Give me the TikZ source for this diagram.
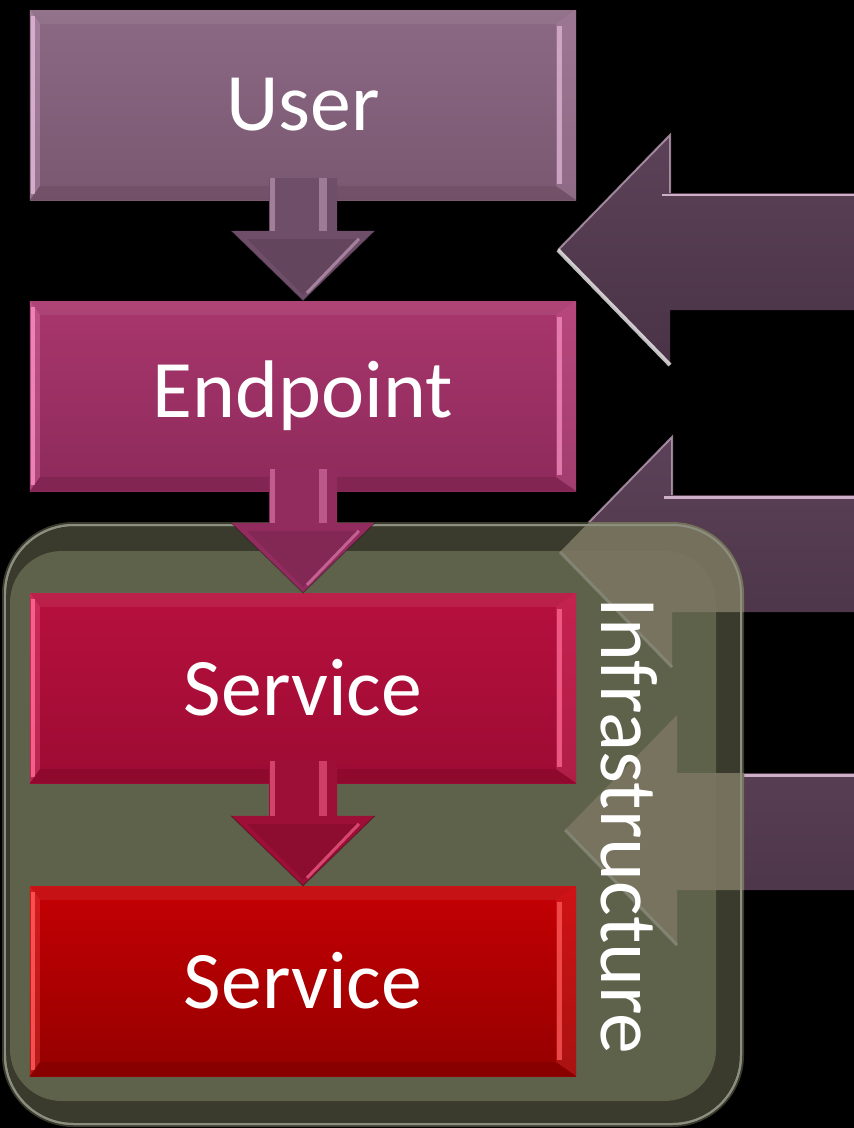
\documentclass[tikz,border=0pt]{standalone}
\usepackage{fontspec}
\newfontfamily\labelfont{Carlito}
\usetikzlibrary{calc}

\definecolor{sidepurple}{RGB}{83,58,79}
\definecolor{sidepurpletop}{RGB}{92,66,88}
\definecolor{sidepurplelow}{RGB}{74,51,70}
\definecolor{sidehi}{RGB}{205,176,200}
\definecolor{infrarim}{RGB}{58,59,44}
\definecolor{infrafill}{RGB}{95,98,74}
\definecolor{infraedge}{RGB}{140,142,128}
\definecolor{infratint}{RGB}{122,117,96}

\definecolor{usertop}{RGB}{139,104,132}
\definecolor{userlow}{RGB}{123,88,113}
\definecolor{userhi}{RGB}{224,182,215}
\definecolor{userdk}{RGB}{100,70,92}
\definecolor{endtop}{RGB}{168,54,108}
\definecolor{endlow}{RGB}{142,42,91}
\definecolor{endhi}{RGB}{246,140,192}
\definecolor{enddk}{RGB}{112,30,70}
\definecolor{svatop}{RGB}{183,16,62}
\definecolor{svalow}{RGB}{156,11,51}
\definecolor{svahi}{RGB}{255,106,150}
\definecolor{svadk}{RGB}{122,6,38}
\definecolor{svbtop}{RGB}{196,0,4}
\definecolor{svblow}{RGB}{149,0,0}
\definecolor{svbhi}{RGB}{255,90,90}
\definecolor{svbdk}{RGB}{115,0,0}

\definecolor{arrA}{RGB}{111,78,105}
\definecolor{arrAhi}{RGB}{204,166,196}
\definecolor{arrB}{RGB}{146,44,94}
\definecolor{arrBhi}{RGB}{232,132,183}
\definecolor{arrC}{RGB}{158,15,55}
\definecolor{arrChi}{RGB}{255,110,150}

\tikzset{
  stepbox/.style 2 args={rectangle, minimum width=546bp, minimum height=190bp,
    inner sep=0pt, top color=#1, bottom color=#2, text=white,
    font=\labelfont\fontsize{82}{90}\selectfont},
  infralabel/.style={text=white, inner sep=0pt,
    font=\labelfont\fontsize{82}{90}\selectfont},
  sidearrow/.style={top color=sidepurpletop, bottom color=sidepurplelow},
}

% bevelled frame of a step box: node, highlight colour, bottom colour
\newcommand\boxbevel[3]{%
  \fill[#2, opacity=0.3] (#1.north west) -- (#1.south west)
     -- ($(#1.south west)+(10bp,14bp)$) -- ($(#1.north west)+(10bp,-14bp)$) -- cycle;
  \draw[#2, line width=4bp, opacity=0.85] ($(#1.north west)+(3bp,-6bp)$) -- ($(#1.south west)+(3bp,6bp)$);
  \fill[#2, opacity=0.2] (#1.north east) -- (#1.south east)
     -- ($(#1.south east)+(-20bp,14bp)$) -- ($(#1.north east)+(-20bp,-14bp)$) -- cycle;
  \draw[#2, line width=5bp, opacity=0.75] ($(#1.north east)+(-17bp,-16bp)$) -- ($(#1.south east)+(-17bp,16bp)$);
  \fill[white, opacity=0.07] (#1.north west) -- (#1.north east)
     -- ($(#1.north east)+(-20bp,-14bp)$) -- ($(#1.north west)+(10bp,-14bp)$) -- cycle;
  \fill[#3, opacity=0.4] (#1.south west) -- (#1.south east)
     -- ($(#1.south east)+(-20bp,14bp)$) -- ($(#1.south west)+(10bp,14bp)$) -- cycle;
}

% block arrow from one step box down to the next: from, to, colour, highlight
\newcommand\flowarrow[4]{%
  \fill[#3] ($(#1.south)+(-34bp,22bp)$) -- ($(#1.south)+(34bp,22bp)$)
     -- ($(#2.north)+(34bp,70bp)$) -- ($(#2.north)+(72bp,70bp)$) -- (#2.north)
     -- ($(#2.north)+(-72bp,70bp)$) -- ($(#2.north)+(-34bp,70bp)$) -- cycle;
  \fill[#4, opacity=0.55] ($(#1.south)+(-33bp,22bp)$) rectangle ($(#2.north)+(-28bp,70bp)$);
  \fill[#4, opacity=0.5] ($(#1.south)+(16bp,22bp)$) rectangle ($(#2.north)+(24bp,70bp)$);
  \fill[black, opacity=0.1] ($(#2.north)+(-56bp,62bp)$) -- ($(#2.north)+(56bp,62bp)$)
     -- ($(#2.north)+(0bp,6bp)$) -- cycle;
  \draw[#4, line width=3bp, opacity=0.6] ($(#2.north)+(56bp,62bp)$) -- ($(#2.north)+(4bp,8bp)$);
  \draw[black, line width=1bp, opacity=0.3] ($(#2.north)+(-72bp,70bp)$) -- (#2.north) -- ($(#2.north)+(72bp,70bp)$);
}

\begin{document}
\begin{tikzpicture}[x=1bp,y=-1bp]
\fill[black] (0,0) rectangle (854,1128);
\useasboundingbox (0,0) rectangle (854,1128);

% arrows entering from the right edge
\foreach \ty/\bx [count=\i] in {250/670, 552/672, 830/677} {
  \coordinate (in\i) at (558+\bx-670,\ty);
  \fill[sidearrow] (in\i) -- (\bx,\ty-115) -- (\bx,\ty-57) -- (860,\ty-57)
     -- (860,\ty+60) -- (\bx,\ty+60) -- (\bx,\ty+115) -- cycle;
  \draw[sidehi, line width=3] (\bx-8,\ty-55) -- (860,\ty-55);
  \draw[sidehi, line width=2, opacity=0.7] (in\i) -- (\bx,\ty-115) -- (\bx,\ty-57);
  \draw[white, line width=4, opacity=0.75] (in\i) -- (\bx,\ty+115);
}

% infrastructure frame
\fill[infrarim, rounded corners=72] (2,522) rectangle (744,1127);
\fill[infrafill, rounded corners=52] (10,551) rectangle (716,1101);
\draw[infraedge, line width=2, rounded corners=69] (5,525) rectangle (741,1124);
\begin{scope}
  \clip[rounded corners=72] (2,522) rectangle (744,1127);
  \foreach \ty/\bx in {552/672, 830/677} {
    \fill[infratint, opacity=0.92] (558+\bx-670,\ty) -- (\bx,\ty-115) -- (\bx,\ty-57) -- (860,\ty-57)
       -- (860,\ty+60) -- (\bx,\ty+60) -- (\bx,\ty+115) -- cycle;
    \draw[infraedge, line width=3, opacity=0.7] (558+\bx-670,\ty) -- (\bx,\ty+115);
  }
  \draw[infraedge, line width=2, rounded corners=69] (5,525) rectangle (741,1124);
\end{scope}

% step boxes
\node[stepbox={usertop}{userlow}] (user) at (303,105) {User};
\node[stepbox={endtop}{endlow}] (endpoint) at (303,396) {Endpoint};
\node[stepbox={svatop}{svalow}] (service1) at (303,688) {Service};
\node[stepbox={svbtop}{svblow}] (service2) at (303,981) {Service};
\boxbevel{user}{userhi}{userdk}
\boxbevel{endpoint}{endhi}{enddk}
\boxbevel{service1}{svahi}{svadk}
\boxbevel{service2}{svbhi}{svbdk}

\flowarrow{user}{endpoint}{arrA}{arrAhi}
\flowarrow{endpoint}{service1}{arrB}{arrBhi}
\flowarrow{service1}{service2}{arrC}{arrChi}

\node[infralabel, rotate=-90] (infra) at (629,826) {Infrastructure};
\end{tikzpicture}
\end{document}
